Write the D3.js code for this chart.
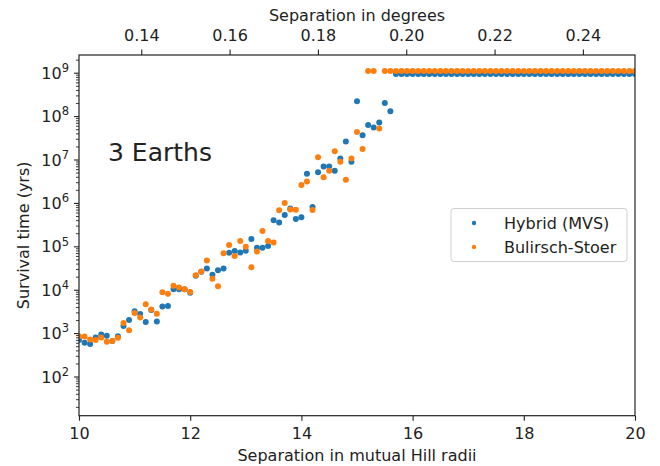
<!DOCTYPE html>
<html><head><meta charset="utf-8">
<script src="https://cdn.jsdelivr.net/npm/d3@7"></script>
<style>
body{margin:0;background:#fff;}
text{font-family:"DejaVu Sans",sans-serif;fill:#222;}
</style></head>
<body><svg id="c" width="660" height="466"></svg>
<script>
// Separation in mutual Hill radii
const hill = [10.0,10.1,10.2,10.3,10.4,10.5,10.6,10.7,10.8,10.9,
 11.0,11.1,11.2,11.3,11.4,11.5,11.6,11.7,11.8,11.9,
 12.0,12.1,12.2,12.3,12.4,12.5,12.6,12.7,12.8,12.9,
 13.0,13.1,13.2,13.3,13.4,13.5,13.6,13.7,13.8,13.9,
 14.0,14.1,14.2,14.3,14.4,14.5,14.6,14.7,14.8,14.9,
 15.0,15.1,15.2,15.3,15.4,15.5,15.6,15.7,15.8,15.9,
 16.0,16.1,16.2,16.3,16.4,16.5,16.6,16.7,16.8,16.9,
 17.0,17.1,17.2,17.3,17.4,17.5,17.6,17.7,17.8,17.9,
 18.0,18.1,18.2,18.3,18.4,18.5,18.6,18.7,18.8,18.9,
 19.0,19.1,19.2,19.3,19.4,19.5,19.6,19.7,19.8,19.9,20.0];
// Survival time (yrs), Hybrid (MVS)
const hybrid = [690,600,560,790,930,870,660,850,1450,2000,
 3200,2750,1800,3400,1860,4100,4200,10200,10200,10200,
 8500,21000,26000,31000,22000,28000,31000,71000,78000,72000,
 79000,148000,93000,93000,102000,400000,355000,525000,740000,427000,
 468000,4.7e6,8.1e5,5.1e6,6.9e6,6.9e6,5.5e6,1.05e7,2.6e7,8.9e6,
 2.2e8,3.6e7,6.2e7,5.5e7,7.1e7,2.0e8,1.3e8,9.3e8,9.3e8,9.3e8,
 9.3e8,9.3e8,9.3e8,9.3e8,9.3e8,9.3e8,9.3e8,9.3e8,9.3e8,9.3e8,
 9.3e8,9.3e8,9.3e8,9.3e8,9.3e8,9.3e8,9.3e8,9.3e8,9.3e8,9.3e8,
 9.3e8,9.3e8,9.3e8,9.3e8,9.3e8,9.3e8,9.3e8,9.3e8,9.3e8,9.3e8,
 9.3e8,9.3e8,9.3e8,9.3e8,9.3e8,9.3e8,9.3e8,9.3e8,9.3e8,9.3e8,9.3e8];
// Survival time (yrs), Bulirsch-Stoer
const bulirsch = [850,830,710,690,790,630,660,780,1700,1170,
 2900,2300,4600,3500,2800,8700,8100,12300,11200,10200,
 8900,21400,26300,46800,17800,12000,69000,107000,60000,132000,
 98000,33000,76000,224000,132000,123000,676000,1.0e6,708000,692000,
 2.6e6,3.1e6,6.9e5,1.12e7,3.9e6,5.5e6,1.55e7,8.9e6,3.4e6,1.05e7,
 4.3e7,1.74e7,1.1e9,1.1e9,5.2e7,1.1e9,1.1e9,1.1e9,1.1e9,1.1e9,
 1.1e9,1.1e9,1.1e9,1.1e9,1.1e9,1.1e9,1.1e9,1.1e9,1.1e9,1.1e9,
 1.1e9,1.1e9,1.1e9,1.1e9,1.1e9,1.1e9,1.1e9,1.1e9,1.1e9,1.1e9,
 1.1e9,1.1e9,1.1e9,1.1e9,1.1e9,1.1e9,1.1e9,1.1e9,1.1e9,1.1e9,
 1.1e9,1.1e9,1.1e9,1.1e9,1.1e9,1.1e9,1.1e9,1.1e9,1.1e9,1.1e9,1.1e9];
const seriesNames = ["Hybrid (MVS)", "Bulirsch-Stoer"];
const xTicks = [10,12,14,16,18,20];
const degTicks = [0.14,0.16,0.18,0.20,0.22,0.24];
const yTicks = [1e2,1e3,1e4,1e5,1e6,1e7,1e8,1e9];

const colors = ["#1f77b4", "#ff7f0e"];
const L = 79, R = 635, T = 55, B = 415.7;
const FS = "16px";
const svg = d3.select("#c");

const x = d3.scaleLinear().domain([10,20]).range([L,R]);
const xDeg = d3.scaleLinear().domain([0.12590,0.25180]).range([L,R]);
const y = d3.scaleLog().domain([Math.pow(10,1.097), Math.pow(10,9.408)]).range([B,T]);

svg.append("defs").append("clipPath").attr("id","clip")
  .append("rect").attr("x",L).attr("y",T).attr("width",R-L).attr("height",B-T);

const gp = svg.append("g").attr("clip-path","url(#clip)");
[hybrid, bulirsch].forEach((s,i)=>{
  gp.append("g").selectAll("circle").data(hill.map((h,j)=>[h,s[j]])).join("circle")
    .attr("cx",d=>x(d[0])).attr("cy",d=>y(d[1])).attr("r",3)
    .attr("fill",colors[i]);
});

function styleAxis(g){
  g.select(".domain").remove();
  g.selectAll("line").attr("stroke","#222").attr("stroke-width",1.1);
  g.selectAll("text").attr("fill","#222").style("font-family","DejaVu Sans").style("font-size",FS);
}
// bottom
svg.append("g").attr("transform",`translate(0,${B})`)
  .call(d3.axisBottom(x).tickValues(xTicks).tickSize(5).tickPadding(7).tickFormat(d3.format("d")))
  .call(styleAxis);
// top
svg.append("g").attr("transform",`translate(0,${T})`)
  .call(d3.axisTop(xDeg).tickValues(degTicks).tickSize(5.5).tickPadding(8.5).tickFormat(d3.format(".2f")))
  .call(styleAxis);
// left minor
const minor = [];
for (let e=1;e<=9;e++) for (let m=2;m<=9;m++){ const v=m*Math.pow(10,e); if (v>=y.domain()[0] && v<=y.domain()[1]) minor.push(v); }
svg.append("g").attr("transform",`translate(${L},0)`)
  .call(d3.axisLeft(y).tickValues(minor).tickSize(3).tickFormat(""))
  .call(g=>{g.select(".domain").remove(); g.selectAll("line").attr("stroke","#222").attr("stroke-width",0.9);});
// left major
const ya = svg.append("g").attr("transform",`translate(${L},0)`)
  .call(d3.axisLeft(y).tickValues(yTicks).tickSize(5).tickPadding(5).tickFormat(""))
  .call(styleAxis);
ya.selectAll(".tick").each(function(d){
  const t = d3.select(this).select("text");
  t.text(null).attr("dy","0.35em");
  t.append("tspan").text("10");
  t.append("tspan").text(Math.round(Math.log10(d))).attr("dy","-0.6em").style("font-size","11.5px");
});

// frame
svg.append("rect").attr("x",L).attr("y",T).attr("width",R-L).attr("height",B-T)
  .attr("fill","none").attr("stroke","#222").attr("stroke-width",1.2);

// labels
svg.append("text").attr("x",(L+R)/2).attr("y",461).attr("text-anchor","middle")
  .style("font-size",FS).text("Separation in mutual Hill radii");
svg.append("text").attr("x",(L+R)/2).attr("y",21).attr("text-anchor","middle")
  .style("font-size",FS).text("Separation in degrees");
svg.append("text").attr("transform",`translate(29,${(T+B)/2}) rotate(-90)`).attr("text-anchor","middle")
  .style("font-size",FS).text("Survival time (yrs)");
svg.append("text").attr("x",108).attr("y",161).style("font-size","25px").text("3 Earths");

// legend
const lg = svg.append("g");
lg.append("rect").attr("x",451).attr("y",208.5).attr("width",176).attr("height",53).attr("rx",3)
  .attr("fill","#fff").attr("fill-opacity",0.8).attr("stroke","#d0d0d0").attr("stroke-width",1);
seriesNames.forEach((n,i)=>{
  const cy = 223 + i*24;
  lg.append("circle").attr("cx",474).attr("cy",cy).attr("r",2.2).attr("fill",colors[i]);
  lg.append("text").attr("x",504).attr("y",cy).attr("dy","0.35em").style("font-size",FS).text(n);
});
</script></body></html>
